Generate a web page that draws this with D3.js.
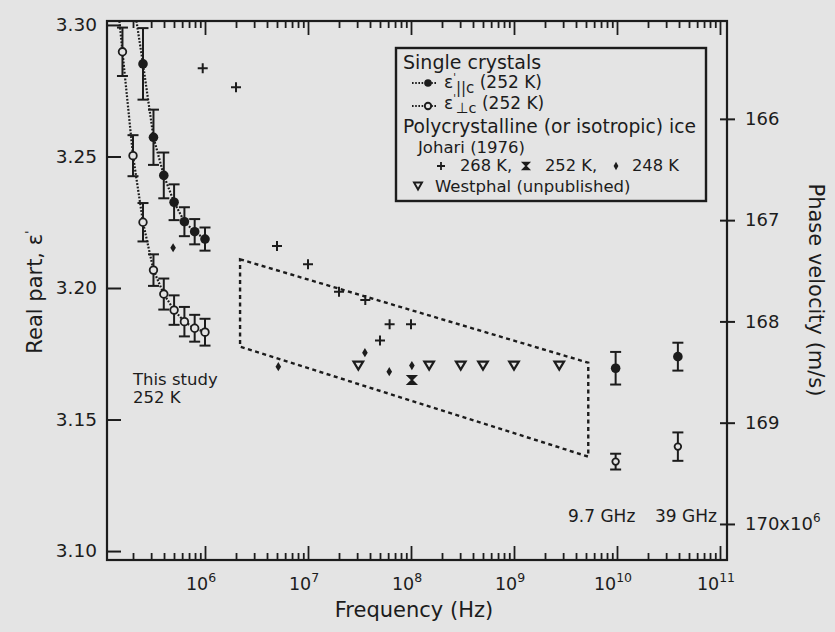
<!DOCTYPE html>
<html><head><meta charset="utf-8">
<script src="https://cdn.jsdelivr.net/npm/d3@7"></script>
<style>
html,body{margin:0;padding:0;background:#e4e4e4;}
svg{display:block;}
text{font-family:"DejaVu Sans",sans-serif;fill:#1c1c1c;}
</style></head>
<body>
<svg id="chart" width="835" height="632"></svg>
<script>
// ---------------- data ----------------
// Single crystal, E parallel c (252 K), filled circles
const parFreq = [2.5e5, 3.16e5, 3.98e5, 5.01e5, 6.31e5, 7.94e5, 1.0e6];
const parEps  = [3.2852, 3.2573, 3.2428, 3.2326, 3.2252, 3.2214, 3.2186];
const parErr  = [0.0136, 0.0105, 0.0087, 0.0068, 0.0055, 0.0048, 0.0044];
// Single crystal, E perpendicular c (252 K), open circles
const perpFreq = [1.58e5, 2.0e5, 2.5e5, 3.16e5, 3.98e5, 5.01e5, 6.31e5, 7.94e5, 1.0e6];
const perpEps  = [3.2898, 3.2503, 3.2250, 3.2068, 3.1977, 3.1916, 3.1872, 3.1847, 3.1832];
const perpErr  = [0.0092, 0.0078, 0.0073, 0.0060, 0.0059, 0.0056, 0.0056, 0.0051, 0.0051];
// dotted fit lines run up to the top of the frame
const parFitTop  = [2.16e5, 3.3015];
const perpFitTop = [1.476e5, 3.3015];
// microwave points (9.7 GHz, 39 GHz)
const hfFreq    = [9.7e9, 3.9e10];
const hfParEps  = [3.1695, 3.1739];
const hfParErr  = [0.0062, 0.0053];
const hfPerpEps = [3.1340, 3.1397];
const hfPerpErr = [0.0030, 0.0054];
// Johari (1976) polycrystalline
const j268Freq = [9.5e5, 2.0e6, 5.0e6, 1.0e7, 2.0e7, 3.6e7, 5.0e7, 6.2e7, 1.0e8];
const j268Eps  = [3.2835, 3.2763, 3.2160, 3.2090, 3.1986, 3.1954, 3.1800, 3.1862, 3.1862];
const j252Freq = [1.02e8];
const j252Eps  = [3.1650];
const j248Freq = [4.9e5, 5.15e6, 3.57e7, 6.15e7, 1.02e8];
const j248Eps  = [3.2153, 3.1701, 3.1754, 3.1682, 3.1705];
// Westphal (unpublished)
const westFreq = [3.08e7, 1.5e8, 3.04e8, 5.0e8, 1.0e9, 2.75e9];
const westEps  = [3.1705, 3.1705, 3.1705, 3.1705, 3.1705, 3.1705];
// dashed envelope
const boxFreq = [2.19e6, 5.26e9, 5.26e9, 2.19e6];
const boxEps  = [3.2109, 3.1716, 3.1359, 3.1777];
// ticks
const yTicks = [3.10, 3.15, 3.20, 3.25, 3.30];
const xDecades = [6, 7, 8, 9, 10, 11];
const vTicks = [166, 167, 168, 169, 170];
const vTickLabels = ["166", "167", "168", "169", "170x10"];

// ---------------- scales ----------------
const L = 107, R = 727, T = 21, B = 560;
const x = d3.scaleLog().domain([Math.pow(10, 5.0485), Math.pow(10, 11.068)]).range([L, R]);
const y = d3.scaleLinear().domain([3.0966, 3.3015]).range([B, T]);
const v = d3.scaleLinear().domain([166, 170]).range([y(3.2643), y(3.1103)]);

const ink = "#1c1c1c";
const bg = "#e4e4e4";
const svg = d3.select("#chart");
svg.append("rect").attr("width", 835).attr("height", 632).attr("fill", bg);

const defs = svg.append("defs");
defs.append("clipPath").attr("id", "plotclip").append("rect")
  .attr("x", L).attr("y", T).attr("width", R - L).attr("height", B - T);

// ---------------- axes ----------------
const majors = xDecades.map(e => Math.pow(10, e));
const minors = [];
for (let e = 5; e <= 11; e++) for (let m = 2; m <= 9; m++) {
  const f = m * Math.pow(10, e);
  if (f > x.domain()[0] && f < x.domain()[1]) minors.push(f);
}
function styleAxis(g) {
  g.select(".domain").remove();
  g.selectAll(".tick line").attr("stroke", ink).attr("stroke-width", 1.8);
}
svg.append("g").attr("transform", `translate(0,${B})`)
  .call(d3.axisBottom(x).tickValues(minors).tickSize(-7).tickFormat("")).call(styleAxis);
svg.append("g").attr("transform", `translate(0,${B})`)
  .call(d3.axisBottom(x).tickValues(majors).tickSize(-14).tickFormat("")).call(styleAxis);
svg.append("g").attr("transform", `translate(0,${T})`)
  .call(d3.axisTop(x).tickValues(minors).tickSize(-7).tickFormat("")).call(styleAxis);
svg.append("g").attr("transform", `translate(0,${T})`)
  .call(d3.axisTop(x).tickValues(majors).tickSize(-14).tickFormat("")).call(styleAxis);

// x tick labels 10^n
const xl = svg.append("g");
xDecades.forEach(e => {
  const t = xl.append("text").attr("x", x(Math.pow(10, e)) - 4).attr("y", 590)
    .attr("text-anchor", "middle").attr("font-size", 17.5);
  t.append("tspan").text("10");
  t.append("tspan").attr("dy", -8).attr("font-size", 12.5).text(e);
});

// left axis
const ya = svg.append("g").attr("transform", `translate(${L},0)`)
  .call(d3.axisLeft(y).tickValues(yTicks).tickSize(-14).tickPadding(10).tickFormat(d3.format(".2f")));
ya.select(".domain").remove();
ya.selectAll(".tick line").attr("stroke", ink).attr("stroke-width", 2);
ya.selectAll(".tick text").attr("font-size", 18.5).attr("fill", ink)
  .style("font-family", '"DejaVu Sans",sans-serif');

// right axis (phase velocity)
const va = svg.append("g").attr("transform", `translate(${R},0)`)
  .call(d3.axisRight(v).tickValues(vTicks).tickSize(8).tickPadding(10)
    .tickFormat((d, i) => vTickLabels[i]));
va.select(".domain").remove();
va.selectAll(".tick line").attr("x1", -7).attr("stroke", ink).attr("stroke-width", 2);
va.selectAll(".tick text").attr("font-size", 18).attr("fill", ink)
  .style("font-family", '"DejaVu Sans",sans-serif');
va.selectAll(".tick text").filter((d) => d === 170)
  .append("tspan").attr("dy", -8).attr("font-size", 12).text("6");

// frame
svg.append("rect").attr("x", L).attr("y", T).attr("width", R - L).attr("height", B - T)
  .attr("fill", "none").attr("stroke", ink).attr("stroke-width", 2.2);

// axis titles
svg.append("text").attr("x", 414).attr("y", 617).attr("text-anchor", "middle")
  .attr("font-size", 21).text("Frequency (Hz)");
const yt = svg.append("text").attr("transform", "translate(42,292) rotate(-90)")
  .attr("text-anchor", "middle").attr("font-size", 21);
yt.append("tspan").text("Real part, ε");
yt.append("tspan").attr("dy", -8).attr("font-size", 13).text("'");
svg.append("text").attr("transform", "translate(809,290) rotate(90)")
  .attr("text-anchor", "middle").attr("font-size", 21).text("Phase velocity (m/s)");

// ---------------- marks ----------------
const plot = svg.append("g").attr("clip-path", "url(#plotclip)");
const zip = (a, b, c) => a.map((d, i) => ({ f: d, e: b[i], err: c ? c[i] : 0 }));

// dashed envelope
const boxPts = zip(boxFreq, boxEps);
plot.append("path")
  .attr("d", d3.line().x(d => x(d.f)).y(d => y(d.e))(boxPts) + "Z")
  .attr("fill", "none").attr("stroke", ink).attr("stroke-width", 2.4)
  .attr("stroke-dasharray", "4,3.5");

// dotted fit lines
const dotLine = d3.line().x(d => x(d.f)).y(d => y(d.e));
const parLine = [{ f: parFitTop[0], e: parFitTop[1] }].concat(zip(parFreq, parEps));
const perpLine = [{ f: perpFitTop[0], e: perpFitTop[1] }].concat(zip(perpFreq, perpEps));
[parLine, perpLine].forEach(pts => {
  plot.append("path").attr("d", dotLine(pts)).attr("fill", "none")
    .attr("stroke", ink).attr("stroke-width", 2.2).attr("stroke-dasharray", "1.8,1.6");
});

// error bars
function errBars(pts, cap) {
  const g = plot.append("g").attr("stroke", ink).attr("stroke-width", 2);
  pts.forEach(d => {
    const cx = x(d.f), y1 = y(d.e + d.err), y2 = y(d.e - d.err);
    g.append("line").attr("x1", cx).attr("x2", cx).attr("y1", y1).attr("y2", y2);
    g.append("line").attr("x1", cx - cap).attr("x2", cx + cap).attr("y1", y1).attr("y2", y1);
    g.append("line").attr("x1", cx - cap).attr("x2", cx + cap).attr("y1", y2).attr("y2", y2);
  });
}
const parPts = zip(parFreq, parEps, parErr);
const perpPts = zip(perpFreq, perpEps, perpErr);
const hfParPts = zip(hfFreq, hfParEps, hfParErr);
const hfPerpPts = zip(hfFreq, hfPerpEps, hfPerpErr);
errBars(parPts, 5.5); errBars(perpPts, 5.5); errBars(hfParPts, 5.5); errBars(hfPerpPts, 5.5);

function filledCircles(pts, r) {
  plot.append("g").selectAll("circle").data(pts).join("circle")
    .attr("cx", d => x(d.f)).attr("cy", d => y(d.e)).attr("r", r).attr("fill", ink);
}
function openCircles(pts, r) {
  plot.append("g").selectAll("circle").data(pts).join("circle")
    .attr("cx", d => x(d.f)).attr("cy", d => y(d.e)).attr("r", r)
    .attr("fill", bg).attr("stroke", ink).attr("stroke-width", 1.8);
}
filledCircles(parPts, 4.8); filledCircles(hfParPts, 4.8);
openCircles(perpPts, 3.8); openCircles(hfPerpPts, 3.3);

// marker shapes
const plusPath = s => `M${-s},0H${s}M0,${-s}V${s}`;
const diamondPath = (w, h) => `M0,${-h}L${w},0L0,${h}L${-w},0Z`;
const hourPath = s => `M${-s},${-s}H${s}L${-s},${s}H${s}Z`;
const triPath = (w, h) => `M${-w},${-h}H${w}L0,${h}Z`;

plot.append("g").selectAll("path").data(zip(j268Freq, j268Eps)).join("path")
  .attr("transform", d => `translate(${x(d.f)},${y(d.e)})`).attr("d", plusPath(5))
  .attr("stroke", ink).attr("stroke-width", 2).attr("fill", "none");
plot.append("g").selectAll("path").data(zip(j248Freq, j248Eps)).join("path")
  .attr("transform", d => `translate(${x(d.f)},${y(d.e)})`).attr("d", diamondPath(2.8, 4.6))
  .attr("fill", ink);
plot.append("g").selectAll("path").data(zip(j252Freq, j252Eps)).join("path")
  .attr("transform", d => `translate(${x(d.f)},${y(d.e)})`).attr("d", hourPath(4.2))
  .attr("fill", ink).attr("stroke", ink).attr("stroke-width", 1.6);
plot.append("g").selectAll("path").data(zip(westFreq, westEps)).join("path")
  .attr("transform", d => `translate(${x(d.f)},${y(d.e)})`).attr("d", triPath(4.8, 4))
  .attr("fill", "none").attr("stroke", ink).attr("stroke-width", 2.2);

// annotations
svg.append("text").attr("x", 133).attr("y", 385).attr("font-size", 16.5).text("This study");
svg.append("text").attr("x", 133).attr("y", 403).attr("font-size", 16.5).text("252 K");
svg.append("text").attr("x", 568).attr("y", 522).attr("font-size", 17).text("9.7 GHz");
svg.append("text").attr("x", 655).attr("y", 522).attr("font-size", 17).text("39 GHz");

// ---------------- legend ----------------
const lg = svg.append("g");
lg.append("rect").attr("x", 396).attr("y", 48).attr("width", 310).attr("height", 153)
  .attr("fill", bg).attr("stroke", ink).attr("stroke-width", 2.4);
lg.append("text").attr("x", 403).attr("y", 69).attr("font-size", 19).text("Single crystals");
// filled entry
lg.append("line").attr("x1", 412).attr("x2", 436).attr("y1", 83).attr("y2", 83)
  .attr("stroke", ink).attr("stroke-width", 2).attr("stroke-dasharray", "1.6,1.6");
lg.append("circle").attr("cx", 428).attr("cy", 83).attr("r", 3.8).attr("fill", ink);
let t1 = lg.append("text").attr("x", 444).attr("y", 88).attr("font-size", 17);
t1.append("tspan").text("ε");
t1.append("tspan").attr("dy", -7).attr("font-size", 10).text("'");
t1.append("tspan").attr("dy", 12).attr("font-size", 15).text("||c");
t1.append("tspan").attr("dy", -5).attr("font-size", 17).text(" (252 K)");
// open entry
lg.append("line").attr("x1", 412).attr("x2", 436).attr("y1", 106).attr("y2", 106)
  .attr("stroke", ink).attr("stroke-width", 2).attr("stroke-dasharray", "1.6,1.6");
lg.append("circle").attr("cx", 428).attr("cy", 106).attr("r", 3.2).attr("fill", bg)
  .attr("stroke", ink).attr("stroke-width", 1.9);
let t2 = lg.append("text").attr("x", 444).attr("y", 109).attr("font-size", 17);
t2.append("tspan").text("ε");
t2.append("tspan").attr("dy", -7).attr("font-size", 10).text("'");
t2.append("tspan").attr("dy", 11).attr("font-size", 14.5).text("⊥c");
t2.append("tspan").attr("dy", -4).attr("font-size", 17).text(" (252 K)");

lg.append("text").attr("x", 403).attr("y", 133).attr("font-size", 18.7)
  .text("Polycrystalline (or isotropic) ice");
lg.append("text").attr("x", 418).attr("y", 153).attr("font-size", 16.5).text("Johari (1976)");
lg.append("path").attr("transform", "translate(441,166)").attr("d", plusPath(4))
  .attr("stroke", ink).attr("stroke-width", 1.8);
lg.append("text").attr("x", 460).attr("y", 171).attr("font-size", 16.3).text("268 K,");
lg.append("path").attr("transform", "translate(526,166)").attr("d", hourPath(3.5))
  .attr("fill", ink).attr("stroke", ink).attr("stroke-width", 1.3);
lg.append("text").attr("x", 545).attr("y", 171).attr("font-size", 16.3).text("252 K,");
lg.append("path").attr("transform", "translate(616,166)").attr("d", diamondPath(2.4, 4.2))
  .attr("fill", ink);
lg.append("text").attr("x", 632).attr("y", 171).attr("font-size", 16.3).text("248 K");
lg.append("path").attr("transform", "translate(418,186)").attr("d", triPath(4, 3.5))
  .attr("fill", "none").attr("stroke", ink).attr("stroke-width", 1.9);
lg.append("text").attr("x", 435).attr("y", 191.5).attr("font-size", 16.5).text("Westphal (unpublished)");
</script>
</body></html>
